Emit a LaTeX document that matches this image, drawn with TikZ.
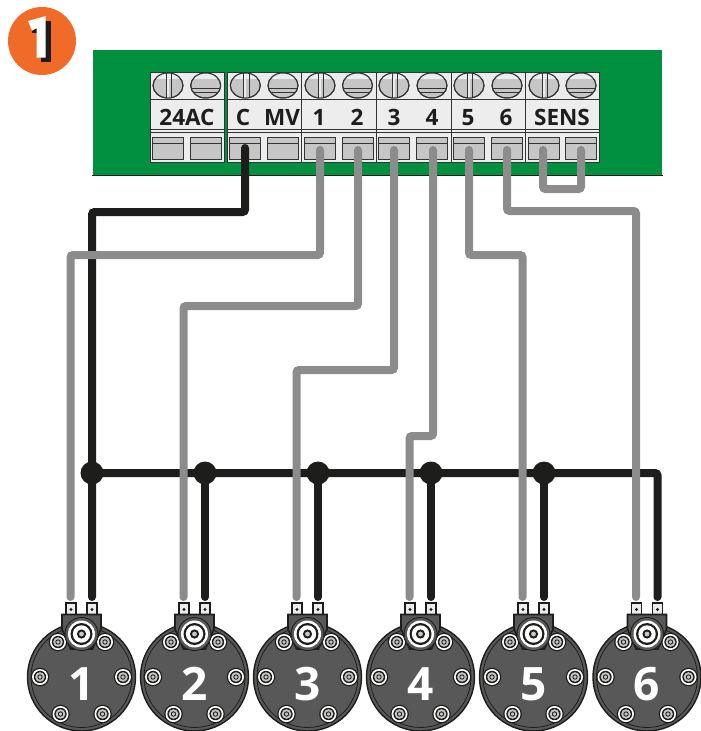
\documentclass[tikz,border=0pt]{standalone}
\usepackage{fontspec}
\setmainfont{Open Sans}
\definecolor{board}{HTML}{00903F}
\definecolor{badge}{HTML}{F06A28}
\definecolor{wiregray}{HTML}{8C8C8C}
\definecolor{wireblack}{HTML}{1D1D1B}
\definecolor{bodygray}{HTML}{585858}
\definecolor{blocklight}{HTML}{EDEDED}
\definecolor{partgray}{HTML}{C6C6C6}
\definecolor{edge}{HTML}{333333}
\tikzset{
  x=1pt,y=-1pt,
  graywire/.style={draw=wiregray,line width=8pt,rounded corners=2.5pt,line cap=round},
  blackwire/.style={draw=wireblack,line width=8pt,rounded corners=2.5pt,line cap=round},
  junction/.style={circle,fill=wireblack,minimum size=23pt,inner sep=0pt},
  blockbox/.style={draw=edge,line width=1pt,fill=blocklight},
  termlabel/.style={font=\fontsize{22.5}{22.5}\selectfont\bfseries,text=wireblack,inner sep=0pt,anchor=base},
  solnum/.style={font=\fontsize{46}{46}\selectfont\bfseries,text=white,inner sep=0pt,anchor=base},
  thin part/.style={draw=edge,line width=1pt,fill=partgray},
  pics/bolt/.style={code={
    \fill[wireblack] (0,0) circle[radius=9.3pt];
    \fill[white] (0,0) circle[radius=8pt];
    \fill[wireblack] (0,0) circle[radius=6.2pt];
    \fill[partgray] (0,0) circle[radius=4.8pt];
    \draw[wireblack,line width=.9pt] (0,0) circle[radius=2.2pt];
  }},
  pics/screwv/.style={code={
    \filldraw[thin part] (0,0) ellipse[x radius=15pt,y radius=12.5pt];
    \begin{scope}
      \clip (0,0) ellipse[x radius=15pt,y radius=12.5pt];
      \fill[blocklight] (-15,-13) rectangle (15,-7);
      \fill[blocklight] (-2,-13) rectangle (.8,13);
      \fill[partgray] (.8,-7) rectangle (3.7,13);
      \draw[edge,line width=1pt] (-2,-13) -- (-2,13) (3.7,-13) -- (3.7,13);
    \end{scope}
    \draw[edge,line width=1pt] (0,0) ellipse[x radius=15pt,y radius=12.5pt];
  }},
  pics/screwh/.style={code={
    \filldraw[thin part] (0,0) ellipse[x radius=15pt,y radius=12.5pt];
    \begin{scope}
      \clip (0,0) ellipse[x radius=15pt,y radius=12.5pt];
      \fill[blocklight] (-15,-13) rectangle (15,-7);
      \draw[edge,line width=1pt] (-15,2.5) -- (15,2.5);
      \draw[edge,line width=1pt] (-15,7) -- (15,7);
    \end{scope}
    \draw[edge,line width=1pt] (0,0) ellipse[x radius=15pt,y radius=12.5pt];
  }},
  pics/slot/.style={code={
    \filldraw[thin part] (-15.5,-10.5) rectangle (15.5,11);
    \draw[edge,line width=1pt] (-15.5,-4.5) -- (15.5,-4.5);
  }},
  pics/solenoid/.style={code={
    \fill[bodygray,draw=wireblack,line width=1.4pt] (0,0) circle[radius=54pt];
    \draw[wireblack,line width=.8pt] (0,0) circle[radius=50.5pt];
    \pic at (-23.5,-35) {bolt};
    \pic at (23.5,-35) {bolt};
    \pic at (-41.5,0) {bolt};
    \pic at (41.5,0) {bolt};
    \pic at (-21,37) {bolt};
    \pic at (21,37) {bolt};
    \filldraw[fill=blocklight,draw=wireblack,line width=1.7pt] (-15.5,-74) rectangle (-5.5,-60);
    \filldraw[fill=blocklight,draw=wireblack,line width=1.7pt] (5.5,-74) rectangle (15.5,-60);
    \fill[wireblack] (-10.5,-67.5) circle[radius=1.7pt] (10.5,-67.5) circle[radius=1.7pt];
    \filldraw[fill=bodygray,draw=wireblack,line width=1.6pt]
      (-19.5,-62.5) -- (19.5,-62.5) -- (19.5,-48) -- (11,-28) -- (-11,-28) -- (-19.5,-48) -- cycle;
    \fill[wireblack] (0,-43) circle[radius=17pt];
    \fill[bodygray] (0,-43) circle[radius=16pt];
    \fill[white] (0,-43) circle[radius=13.5pt];
    \fill[wireblack] (0,-43) circle[radius=11pt];
    \fill[white] (0,-43) circle[radius=8.7pt];
    \fill[wireblack] (0,-43) circle[radius=4.6pt];
    \fill[partgray] (0,-43) circle[radius=2.4pt];
  }}
}
\begin{document}
\begin{tikzpicture}
\useasboundingbox (0,0) rectangle (701,731);
% badge
\node[circle,fill=badge,minimum size=68pt,inner sep=0pt] (badge1) at (42,41) {};
\fill[wireblack] (41,21) -- (51,21) -- (51,62) -- (41,62) -- cycle;
\fill[wireblack] (32,25) -- (37,25) -- (37,32.5) -- (32,32.5) -- cycle;
\fill[white] (28,21) -- (45.7,16) -- (45.7,57.5) -- (36.7,57.5) -- (36.7,28) -- (32,30.7) -- cycle;
% board
\fill[board] (93,50) rectangle (662,175);
\draw[wireblack,line width=1pt] (92,175.5) -- (663,175.5);
% terminal blocks
\foreach \a/\b in {150/224,227/301,301/376,376/451,451/525,525/599}{
  \draw[blockbox] (\a,72) rectangle (\b,162);
  \fill[white!92!black] (\a+.5,72.5) rectangle (\b-.5,98);
  \draw[edge,line width=1pt] (\a,99) -- (\b,99) (\a,129.5) -- (\b,129.5) (\a,132.5) -- (\b,132.5);
}
\foreach \l/\r in {168/205.7,245.3/283,320/357.5,394/432,469/507,544/581}{
  \pic at (\l,85.5) {screwv};
  \pic at (\r,85.5) {screwh};
  \pic at (\l,148) {slot};
  \pic at (\r,148) {slot};
}
% terminal labels
\node[termlabel] (l24) at (187,125) {24AC};
\node[termlabel] (lC) at (243,125) {C};
\node[termlabel] (lMV) at (282,125) {MV};
\node[termlabel] (l1) at (319,125) {1};
\node[termlabel] (l2) at (357,125) {2};
\node[termlabel] (l3) at (394,125) {3};
\node[termlabel] (l4) at (432,125) {4};
\node[termlabel] (l5) at (468,125) {5};
\node[termlabel] (l6) at (506,125) {6};
\node[termlabel] (lS) at (562,125) {SENS};
% terminal coordinates
\coordinate (tC) at (245,148);
\coordinate (t1) at (320,150);
\coordinate (t2) at (358,150);
\coordinate (t3) at (394,150);
\coordinate (t4) at (433,150);
\coordinate (t5) at (469,150);
\coordinate (t6) at (507,150);
\coordinate (tS1) at (543,150);
\coordinate (tS2) at (581,150);
% solenoids
\foreach \n/\x in {1/81.5,2/194.5,3/307.5,4/420.5,5/533.5,6/647}{
  \pic at (\x,677) {solenoid};
  \node[solnum] (num\n) at (\x,700) {\n};
  \coordinate (sg\n) at (\x-11,597);
  \coordinate (sb\n) at (\x+10.5,597);
}
% junctions
\coordinate (busend) at (sb6 |- 0,473);
\node[junction] (j1) at (sb1 |- 0,473) {};
\node[junction] (j2) at (sb2 |- 0,473) {};
\node[junction] (j3) at (sb3 |- 0,473) {};
\node[junction] (j4) at (sb4 |- 0,473) {};
\node[junction] (j5) at (sb5 |- 0,473) {};
% black wires
\draw[blackwire] (tC) |- (92,212) -- (sb1);
\draw[blackwire] (j1.center) -- (busend) -- (sb6);
\draw[blackwire] (j2.center) -- (sb2);
\draw[blackwire] (j3.center) -- (sb3);
\draw[blackwire] (j4.center) -- (sb4);
\draw[blackwire] (j5.center) -- (sb5);
% gray wires
\draw[graywire] (t1) |- (70.5,255) -- (sg1);
\draw[graywire] (t2) |- (183.5,306) -- (sg2);
\draw[graywire] (t3) |- (296.5,370) -- (sg3);
\draw[graywire] (t4) |- (409.5,436) -- (sg4);
\draw[graywire] (t5) |- (522.5,255) -- (sg5);
\draw[graywire] (t6) |- (636,211) -- (sg6);
\draw[graywire] (tS1) |- (581,189) -- (tS2);
\end{tikzpicture}
\end{document}
